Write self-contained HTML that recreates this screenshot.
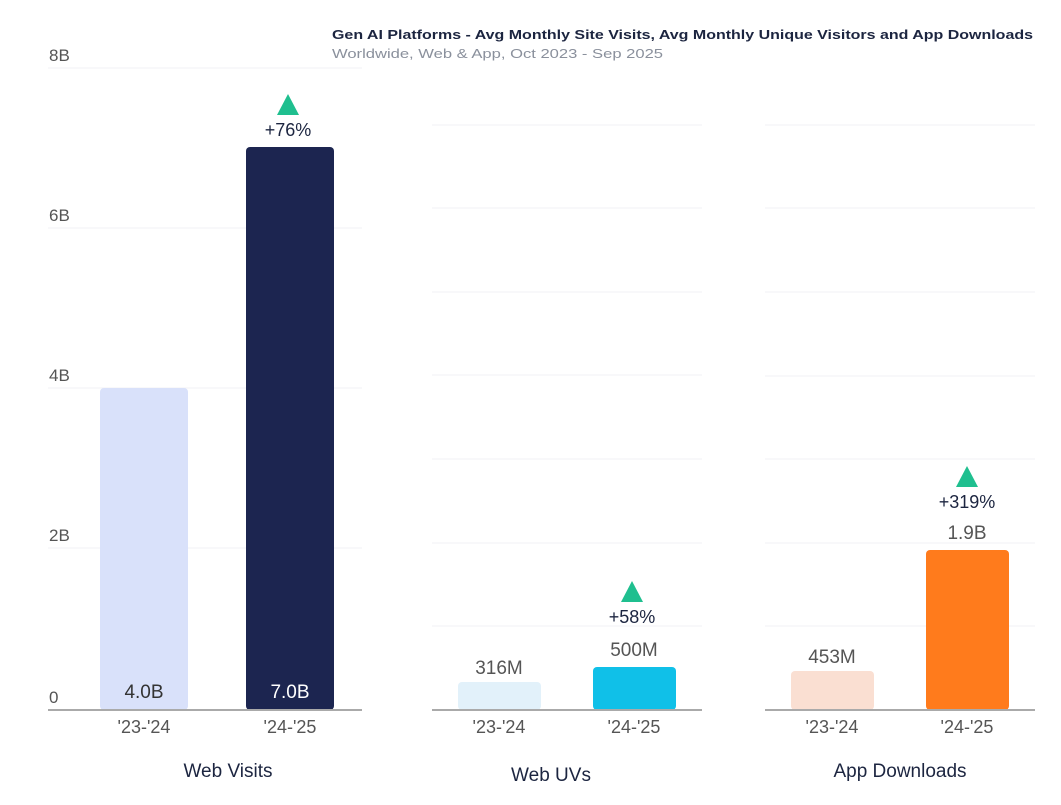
<!DOCTYPE html>
<html><head><meta charset="utf-8"><style>
body{margin:0;background:#fff;}
svg{display:block;font-family:"Liberation Sans",sans-serif;}
</style></head><body>
<svg width="1061" height="805" xmlns="http://www.w3.org/2000/svg">
<rect width="1061" height="805" fill="#fff"/>
<text x="332" y="39" font-size="13" font-weight="bold" fill="#1c2540" textLength="701" lengthAdjust="spacingAndGlyphs">Gen AI Platforms - Avg Monthly Site Visits, Avg Monthly Unique Visitors and App Downloads</text>
<text x="332" y="58" font-size="13" fill="#8a909c" textLength="331" lengthAdjust="spacingAndGlyphs">Worldwide, Web &amp; App, Oct 2023 - Sep 2025</text>
<g stroke="#f1f2f4" stroke-width="1">
<line x1="48" x2="362" y1="68" y2="68"/><line x1="48" x2="362" y1="228" y2="228"/><line x1="48" x2="362" y1="388" y2="388"/><line x1="48" x2="362" y1="548" y2="548"/>
<line x1="432" x2="702" y1="125" y2="125"/><line x1="432" x2="702" y1="208" y2="208"/><line x1="432" x2="702" y1="292" y2="292"/><line x1="432" x2="702" y1="375" y2="375"/><line x1="432" x2="702" y1="459" y2="459"/><line x1="432" x2="702" y1="543" y2="543"/><line x1="432" x2="702" y1="626" y2="626"/>
<line x1="765" x2="1035" y1="125" y2="125"/><line x1="765" x2="1035" y1="208" y2="208"/><line x1="765" x2="1035" y1="292" y2="292"/><line x1="765" x2="1035" y1="376" y2="376"/><line x1="765" x2="1035" y1="459" y2="459"/><line x1="765" x2="1035" y1="543" y2="543"/><line x1="765" x2="1035" y1="626" y2="626"/>
</g>
<g font-size="17" fill="#555">
<text x="49" y="61">8B</text><text x="49" y="221">6B</text><text x="49" y="381">4B</text><text x="49" y="541">2B</text><text x="49" y="703">0</text>
</g>
<rect x="100" y="388" width="88" height="322" rx="4" fill="#d9e1fa"/>
<rect x="246" y="147" width="88" height="563" rx="4" fill="#1c2550"/>
<rect x="458" y="682" width="83" height="28" rx="4" fill="#e2f1fa"/>
<rect x="593" y="667" width="83" height="43" rx="4" fill="#10c0e8"/>
<rect x="791" y="671" width="83" height="39" rx="4" fill="#fadfd2"/>
<rect x="926" y="550" width="83" height="160" rx="4" fill="#ff7b1c"/>
<g stroke="#aaa" stroke-width="2">
<line x1="48" x2="362" y1="710" y2="710"/><line x1="432" x2="702" y1="710" y2="710"/><line x1="765" x2="1035" y1="710" y2="710"/>
</g>
<g font-size="19" text-anchor="middle">
<text x="144" y="698" fill="#333">4.0B</text><text x="290" y="698" fill="#fff">7.0B</text>
<text x="499" y="674" fill="#555">316M</text><text x="634" y="656" fill="#555">500M</text>
<text x="832" y="663" fill="#555">453M</text><text x="967" y="539" fill="#555">1.9B</text>
</g>
<g fill="#1fbf8f">
<polygon points="288,94 277,115 299,115"/><polygon points="632,581 621,602 643,602"/><polygon points="967,466 956,487 978,487"/>
</g>
<g font-size="18" text-anchor="middle" fill="#1c2540">
<text x="288" y="136">+76%</text><text x="632" y="623">+58%</text><text x="967" y="508">+319%</text>
</g>
<g font-size="18" text-anchor="middle" fill="#555">
<text x="144" y="733">'23-'24</text><text x="290" y="733">'24-'25</text>
<text x="499" y="733">'23-'24</text><text x="634" y="733">'24-'25</text>
<text x="832" y="733">'23-'24</text><text x="967" y="733">'24-'25</text>
</g>
<g font-size="19" text-anchor="middle" fill="#1c2540">
<text x="228" y="777">Web Visits</text><text x="551" y="781">Web UVs</text><text x="900" y="777">App Downloads</text>
</g>
</svg>
</body></html>
